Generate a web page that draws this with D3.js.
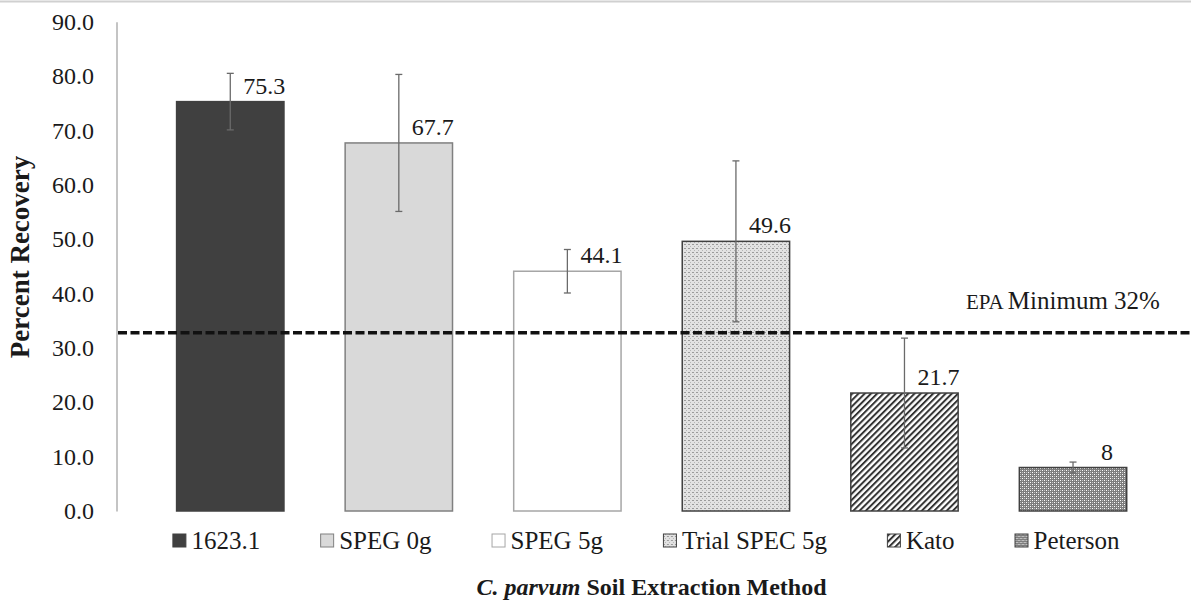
<!DOCTYPE html>
<html>
<head>
<meta charset="utf-8">
<script src="https://cdn.jsdelivr.net/npm/d3@7"></script>
<style>
  body { margin: 0; background: #fff; }
  svg { display: block; font-family: "Liberation Serif", "Times New Roman", serif; }
</style>
</head>
<body>
<script>
// data
const methods = ["1623.1", "SPEG 0g", "SPEG 5g", "Trial SPEC 5g", "Kato", "Peterson"];
const recovery = [75.3, 67.7, 44.1, 49.6, 21.7, 8];
const recoveryLabels = ["75.3", "67.7", "44.1", "49.6", "21.7", "8"];
const errorSize = [5.2, 12.6, 4.0, 14.8, 10.1, 1.0];
const yTicks = [0, 10, 20, 30, 40, 50, 60, 70, 80, 90];
const epaMinimum = 32;       // value in the label
const epaLineLevel = 32.8;   // where the dashed line sits in the picture

// look of each bar (fill, outline)
const barFills = ["#404040", "#d9d9d9", "#ffffff", "url(#trial)", "url(#kato)", "url(#peterson)"];
const barStrokes = ["#404040", "#808080", "#a6a6a6", "#404040", "#404040", "#404040"];

const width = 1191, height = 603;

let svg = d3.select("body")
  .append("svg")
  .attr("width", width)
  .attr("height", height);

// patterns for the hatched bars
let defs = svg.append("defs");

let trial = defs.append("pattern")
  .attr("id", "trial")
  .attr("patternUnits", "userSpaceOnUse")
  .attr("width", 4).attr("height", 4);
trial.append("rect").attr("width", 4).attr("height", 4).attr("fill", "#e2e2e2");
trial.append("rect").attr("x", 0).attr("y", 0).attr("width", 2).attr("height", 1).attr("fill", "#9a9a9a");
trial.append("rect").attr("x", 2).attr("y", 2).attr("width", 1).attr("height", 1).attr("fill", "#b5b5b5");

let kato = defs.append("pattern")
  .attr("id", "kato")
  .attr("patternUnits", "userSpaceOnUse")
  .attr("width", 4.4).attr("height", 4.4)
  .attr("patternTransform", "rotate(45)");
kato.append("rect").attr("width", 4.4).attr("height", 4.4).attr("fill", "#ffffff");
kato.append("rect").attr("width", 2).attr("height", 4.4).attr("fill", "#333333");

let peterson = defs.append("pattern")
  .attr("id", "peterson")
  .attr("patternUnits", "userSpaceOnUse")
  .attr("width", 4).attr("height", 4);
peterson.append("rect").attr("width", 4).attr("height", 4).attr("fill", "#7d7d7d");
peterson.append("rect").attr("x", 0).attr("y", 0).attr("width", 1).attr("height", 1).attr("fill", "#ffffff");
peterson.append("rect").attr("x", 2).attr("y", 2).attr("width", 1).attr("height", 1).attr("fill", "#ffffff");
peterson.append("rect").attr("x", 2).attr("y", 0).attr("width", 1).attr("height", 1).attr("fill", "#c0c0c0");
peterson.append("rect").attr("x", 0).attr("y", 2).attr("width", 1).attr("height", 1).attr("fill", "#c0c0c0");

// thin grey border line at the very top of the picture
svg.append("line")
  .attr("x1", 0).attr("x2", width)
  .attr("y1", 1.5).attr("y2", 1.5)
  .attr("stroke", "#d0d0d0")
  .attr("stroke-width", 2);

// scales
let x = d3.scaleBand()
  .domain(methods)
  .range([146, 1157.3])
  .paddingInner(0.363)
  .paddingOuter(0.1815);

let y = d3.scaleLinear()
  .domain([0, 90])
  .range([511, 21.7]);

// y axis
let yAxis = svg.append("g")
  .attr("transform", "translate(116.5,0)")
  .call(d3.axisLeft(y)
    .tickValues(yTicks)
    .tickFormat(d3.format(".1f"))
    .tickSize(0)
    .tickPadding(22.5));
yAxis.select(".domain")
  .attr("stroke", "#b0b0b0")
  .attr("stroke-width", 1.5);
yAxis.selectAll("text")
  .attr("font-family", "Liberation Serif, Times New Roman, serif")
  .attr("font-size", 24)
  .attr("fill", "#1a1a1a");

// bars
methods.forEach((m, i) => {
  svg.append("rect")
    .attr("x", x(m))
    .attr("y", y(recovery[i]))
    .attr("width", x.bandwidth())
    .attr("height", y(0) - y(recovery[i]))
    .attr("fill", barFills[i])
    .attr("stroke", barStrokes[i])
    .attr("stroke-width", 1.5);
});

// EPA minimum line
svg.append("line")
  .attr("x1", 118).attr("x2", width)
  .attr("y1", y(epaLineLevel)).attr("y2", y(epaLineLevel))
  .attr("stroke", "#111")
  .attr("stroke-width", 3.5)
  .attr("stroke-dasharray", "9,3.5");

let epaText = svg.append("text")
  .attr("x", 966)
  .attr("y", y(epaLineLevel) - 24)
  .attr("fill", "#1a1a1a");
epaText.append("tspan").attr("font-size", 21).text("EPA ");
epaText.append("tspan").attr("font-size", 25).text("Minimum " + epaMinimum + "%");

// error bars
methods.forEach((m, i) => {
  let cx = x(m) + x.bandwidth() / 2;
  let hi = y(recovery[i] + errorSize[i]);
  let lo = y(recovery[i] - errorSize[i]);
  let g = svg.append("g")
    .attr("stroke", "#6a6a6a")
    .attr("stroke-width", 1.3);
  g.append("line").attr("x1", cx).attr("x2", cx).attr("y1", hi).attr("y2", lo);
  g.append("line").attr("x1", cx - 3.5).attr("x2", cx + 3.5).attr("y1", hi).attr("y2", hi);
  g.append("line").attr("x1", cx - 3.5).attr("x2", cx + 3.5).attr("y1", lo).attr("y2", lo);
});

// value labels
methods.forEach((m, i) => {
  svg.append("text")
    .attr("x", x(m) + x.bandwidth() / 2 + 34)
    .attr("y", y(recovery[i]) - 8)
    .attr("text-anchor", "middle")
    .attr("font-size", 24)
    .attr("fill", "#1a1a1a")
    .text(recoveryLabels[i]);
});

// legend, laid out from the text widths
let legend = svg.append("g");
let lx = 0;
let legendGap = 60;
methods.forEach((m, i) => {
  let item = legend.append("g").attr("transform", `translate(${lx},0)`);
  item.append("rect")
    .attr("x", 0.5).attr("y", 534)
    .attr("width", 13).attr("height", 13)
    .attr("fill", barFills[i])
    .attr("stroke", barStrokes[i])
    .attr("stroke-width", 1);
  let t = item.append("text")
    .attr("x", 19)
    .attr("y", 548.5)
    .attr("font-size", 25)
    .attr("fill", "#1a1a1a")
    .text(m);
  lx += 19 + t.node().getComputedTextLength() + legendGap;
});
let legendWidth = lx - legendGap;
legend.attr("transform", `translate(${646 - legendWidth / 2},0)`);

// axis titles
let xTitle = svg.append("text")
  .attr("x", 651.5)
  .attr("y", 595)
  .attr("text-anchor", "middle")
  .attr("font-size", 24)
  .attr("font-weight", "bold")
  .attr("fill", "#1a1a1a");
xTitle.append("tspan").attr("font-style", "italic").text("C. parvum");
xTitle.append("tspan").text(" Soil Extraction Method");

svg.append("text")
  .attr("transform", "translate(29,257) rotate(-90)")
  .attr("text-anchor", "middle")
  .attr("font-size", 27)
  .attr("font-weight", "bold")
  .attr("fill", "#1a1a1a")
  .text("Percent Recovery");
</script>
</body>
</html>
